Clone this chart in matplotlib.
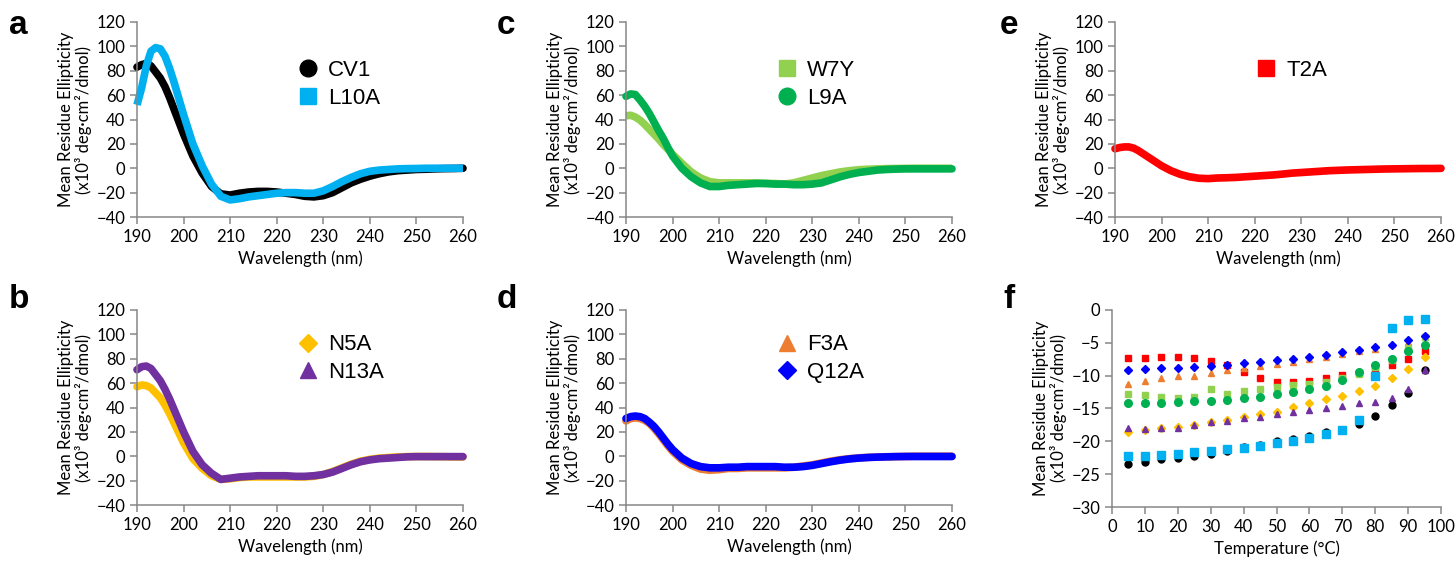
import matplotlib
matplotlib.use("Agg")
import matplotlib.pyplot as plt
from matplotlib.lines import Line2D
import numpy as np

plt.rcParams['font.family'] = ['Lato', 'DejaVu Sans']

# wavelengths (nm) shared by all CD spectra
wl = [190, 191, 192, 193, 194, 195, 196, 197, 198, 199, 200,
      202, 204, 206, 208, 210, 212, 214, 216, 218, 220, 222, 224, 226, 228,
      230, 232, 234, 236, 238, 240, 242, 244, 246, 248, 250, 252, 254, 256, 258, 260]

cv1 = [83, 85, 86, 84, 79, 74, 67, 58, 48, 38, 28,
       10, -4, -15, -21, -22, -20.5, -19.5, -19, -19, -19.5, -20.5, -21.5, -23, -23.5,
       -22.5, -20, -16, -12, -9, -6.5, -4.5, -3, -2, -1.5, -1, -0.8, -0.5, -0.3, -0.2, 0]
l10a = [52, 66, 84, 96, 99, 98, 92, 82, 70, 57, 44,
        20, 2, -13, -23, -26, -25, -23.5, -22.5, -21.5, -20.5, -20, -20, -20.5, -20.5,
        -18.5, -15, -11, -7.5, -4.5, -2.5, -1.5, -1, -0.5, -0.3, -0.2, 0, 0, 0, 0, 0]
n5a = [57, 58.5, 58, 56, 52, 48, 42, 35, 27, 19, 11,
       -2, -10, -16, -19, -18.5, -17.5, -17, -17, -17, -17, -17, -17, -17, -16.5,
       -15, -12.5, -9.5, -6.5, -4, -2.5, -1.5, -1, -0.5, -0.3, -0.2, -0.2, -0.3, -0.4, -0.5, -0.6]
n13a = [71, 73.5, 74, 72, 67, 62, 55, 47, 38, 29, 20,
        4, -7, -14, -19, -18, -17, -16.5, -16, -16, -16, -16, -16.5, -16.5, -16,
        -15, -13, -10, -7, -4.5, -3, -2, -1.5, -1, -0.5, -0.3, -0.3, -0.3, -0.3, -0.3, -0.3]
w7y = [43, 43.5, 42, 39.5, 36, 32, 28, 24, 19.5, 15.5, 11.5,
       4, -3, -8, -11, -12, -12, -12, -12, -12, -12.5, -12.5, -13, -12, -10,
       -8, -6, -4.5, -3, -2, -1.2, -0.8, -0.5, -0.3, -0.2, -0.1, 0, 0, 0, 0, 0]
l9a = [59, 61, 60.5, 56, 51, 45, 38, 31, 24.5, 17, 10,
       0, -7, -12, -15, -15, -14, -13.5, -13, -12.5, -12.5, -13, -13, -13.5, -13.5,
       -13, -12, -9.5, -7, -5, -3.5, -2.5, -1.5, -1, -0.7, -0.5, -0.5, -0.5, -0.5, -0.5, -0.5]
f3a = [29, 31, 31.5, 31, 29.5, 27, 23, 18.5, 13.5, 8.5, 4,
       -3, -7.5, -10.5, -11.5, -11, -10, -10, -9.5, -9.5, -9.5, -9.5, -9.5, -9, -8,
       -7, -5.5, -4, -2.8, -2, -1.3, -0.9, -0.6, -0.4, -0.3, -0.2, 0, 0, 0, 0, 0]
q12a = [31, 32.5, 33, 32.5, 31, 28, 24.5, 20, 15, 10, 5.5,
        -1.5, -6, -8.5, -9.5, -9.5, -9, -9, -8.5, -8.5, -8.5, -8.5, -9, -9, -8.5,
        -7.5, -6, -4.5, -3.2, -2.2, -1.5, -1, -0.7, -0.5, -0.3, -0.2, -0.2, -0.2, -0.2, -0.2, -0.2]
t2a = [16, 17, 17.5, 17.5, 16.5, 14.5, 12, 9.5, 7, 4.5, 2,
       -2, -5, -7, -8.2, -8.5, -8, -7.8, -7.5, -7, -6.5, -6, -5.5, -4.8, -4,
       -3.5, -3, -2.5, -2, -1.7, -1.4, -1.2, -1, -0.8, -0.6, -0.5, -0.4, -0.3, -0.2, -0.2, -0.1]

# thermal melts
temp = [5, 10, 15, 20, 25, 30, 35, 40, 45, 50, 55, 60, 65, 70, 75, 80, 85, 90, 95]
m_cv1 = [-23.5, -23.1, -22.7, -22.5, -22.2, -21.9, -21.4, -20.9, -20.5, -20.0,
         -19.7, -19.2, -18.6, -18.2, -17.4, -16.1, -14.4, -12.6, -9.1]
m_t2a = [-7.3, -7.3, -7.2, -7.1, -7.3, -7.7, -8.3, -9.4, -10.4, -10.9,
         -11.0, -10.8, -10.4, -9.9, -9.6, -9.2, -8.3, -7.5, -6.2]
m_f3a = [-11.2, -10.8, -10.4, -10.1, -10.0, -9.6, -9.2, -8.9, -8.5, -8.2,
         -7.9, -7.5, -7.1, -6.7, -6.3, -5.9, -5.2, -4.8, -4.0]
m_w7y = [-12.8, -13.0, -13.3, -13.4, -13.2, -12.0, -12.8, -12.4, -12.0, -11.7,
         -11.4, -11.2, -10.9, -10.3, -9.7, -8.7, -7.6, -5.8, -4.1]
m_l9a = [-14.2, -14.2, -14.1, -14.0, -13.9, -13.8, -13.7, -13.4, -13.2, -12.8,
         -12.5, -12.1, -11.5, -10.6, -9.5, -8.3, -7.4, -6.3, -5.3]
m_n5a = [-18.6, -18.2, -18.0, -17.8, -17.5, -17.0, -16.8, -16.3, -15.9, -15.5,
         -14.8, -14.2, -13.6, -13.1, -12.3, -11.5, -10.4, -9.0, -7.2]
m_n13a = [-18.0, -18.1, -18.0, -17.9, -17.5, -17.1, -16.9, -16.5, -16.3, -15.9,
          -15.6, -15.3, -14.9, -14.6, -14.2, -14.0, -13.4, -12.0, -9.1]
m_l10a = [-22.3, -22.3, -22.1, -22.0, -21.7, -21.5, -21.2, -21.0, -20.7, -20.3,
          -20.0, -19.5, -18.9, -18.2, -16.7, -10.0, -2.7, -1.5, -1.4]
m_q12a = [-9.2, -9.0, -8.9, -8.9, -8.7, -8.5, -8.3, -8.1, -7.9, -7.6,
          -7.4, -7.1, -6.8, -6.4, -6.1, -5.7, -5.3, -4.6, -3.9]

c_black = '#000000'
c_cyan = '#00b0f0'
c_yellow = '#ffc000'
c_purple = '#7030a0'
c_lgreen = '#92d050'
c_green = '#00b050'
c_orange = '#ed7d31'
c_blue = '#0000ff'
c_red = '#ff0000'

ylab = 'Mean Residue Ellipticity\n(x10³ deg·cm²/dmol)'
spine_col = '#878787'


def style_axes(ax):
    for s in ['top', 'right']:
        ax.spines[s].set_visible(False)
    for s in ['left', 'bottom']:
        ax.spines[s].set_color(spine_col)
        ax.spines[s].set_linewidth(1.1)
    ax.tick_params(colors=spine_col, labelcolor='black', labelsize=12, length=5, width=1.1)
    ax.set_ylabel(ylab, fontsize=12, linespacing=1.1, labelpad=3)


def spectrum_axes(ax):
    style_axes(ax)
    ax.set_xlim(190, 260)
    ax.set_ylim(-40, 120)
    ax.set_xticks(np.arange(190, 261, 10))
    ax.set_yticks(np.arange(-40, 121, 20))
    ax.set_xlabel('Wavelength (nm)', fontsize=12)


def add_legend(ax, entries, anchor):
    handles = [Line2D([], [], ls='none', marker=m, color=c, markersize=ms)
               for (lab, c, m, ms) in entries]
    labels = [e[0] for e in entries]
    ax.legend(handles, labels, loc='upper left', bbox_to_anchor=anchor, frameon=False,
              prop={'family': 'Liberation Sans', 'size': 16}, handlelength=0.8,
              handletextpad=0.5, labelspacing=0.3, borderaxespad=0)


fig = plt.figure(figsize=(14.56, 5.74), dpi=100)
W, H = 1456, 574


def make_ax(x0, y_top, y_bot, w=326):
    return fig.add_axes([x0 / W, 1 - y_bot / H, w / W, (y_bot - y_top) / H])


ax_a = make_ax(137, 22, 217)
ax_b = make_ax(137, 310, 505)
ax_c = make_ax(626, 22, 217)
ax_d = make_ax(626, 310, 505)
ax_e = make_ax(1115, 22, 217)
ax_f = make_ax(1112, 310, 507, w=329)

lw = 5.5
# a
spectrum_axes(ax_a)
ax_a.plot(wl, cv1, color=c_black, lw=lw, solid_capstyle='round', solid_joinstyle='round')
ax_a.plot(wl, l10a, color=c_cyan, lw=lw, solid_capstyle='butt', solid_joinstyle='round')
add_legend(ax_a, [('CV1', c_black, 'o', 12), ('L10A', c_cyan, 's', 12)], (0.47, 0.85))

# b
spectrum_axes(ax_b)
ax_b.plot(wl, n5a, color=c_yellow, lw=lw, solid_capstyle='round', solid_joinstyle='round')
ax_b.plot(wl, n13a, color=c_purple, lw=lw, solid_capstyle='round', solid_joinstyle='round')
add_legend(ax_b, [('N5A', c_yellow, 'D', 9.5), ('N13A', c_purple, '^', 11.5)], (0.47, 0.92))

# c
spectrum_axes(ax_c)
ax_c.plot(wl, w7y, color=c_lgreen, lw=lw, solid_capstyle='butt', solid_joinstyle='round')
ax_c.plot(wl, l9a, color=c_green, lw=lw, solid_capstyle='round', solid_joinstyle='round')
add_legend(ax_c, [('W7Y', c_lgreen, 's', 12), ('L9A', c_green, 'o', 12)], (0.44, 0.85))

# d
spectrum_axes(ax_d)
ax_d.plot(wl, f3a, color=c_orange, lw=lw, solid_capstyle='round', solid_joinstyle='round')
ax_d.plot(wl, q12a, color=c_blue, lw=lw, solid_capstyle='round', solid_joinstyle='round')
add_legend(ax_d, [('F3A', c_orange, '^', 11.5), ('Q12A', c_blue, 'D', 9.5)], (0.44, 0.92))

# e
spectrum_axes(ax_e)
ax_e.plot(wl, t2a, color=c_red, lw=lw, solid_capstyle='round', solid_joinstyle='round')
add_legend(ax_e, [('T2A', c_red, 's', 12)], (0.41, 0.85))

# f
style_axes(ax_f)
ax_f.set_xlim(0, 100)
ax_f.set_ylim(-30, 0)
ax_f.set_xticks(np.arange(0, 101, 10))
ax_f.set_yticks(np.arange(-30, 1, 5))
ax_f.set_xlabel('Temperature (°C)', fontsize=12)
ax_f.plot(temp, m_cv1, 'o', color=c_black, ms=5)
ax_f.plot(temp, m_t2a, 's', color=c_red, ms=5)
ax_f.plot(temp, m_f3a, '^', color=c_orange, ms=5)
ax_f.plot(temp, m_w7y, 's', color=c_lgreen, ms=5)
ax_f.plot(temp, m_l9a, 'o', color=c_green, ms=5.5)
ax_f.plot(temp, m_n5a, 'D', color=c_yellow, ms=3.6)
ax_f.plot(temp, m_n13a, '^', color=c_purple, ms=5)
ax_f.plot(temp, m_l10a, 's', color=c_cyan, ms=5.2)
ax_f.plot(temp, m_q12a, 'D', color=c_blue, ms=3.8)

for ax in [ax_a, ax_b, ax_c, ax_d, ax_e, ax_f]:
    for m in ax.lines:
        m.set_clip_on(False)

letters = [('a', 9, 25), ('b', 9, 300), ('c', 497, 25), ('d', 497, 300), ('e', 1000, 25), ('f', 1003, 300)]
for t, x, y in letters:
    fig.text(x / W, 1 - y / H, t, fontsize=24, fontweight='bold', family='Liberation Sans',
             va='center', ha='left')

fig.savefig('out.png', dpi=100)
